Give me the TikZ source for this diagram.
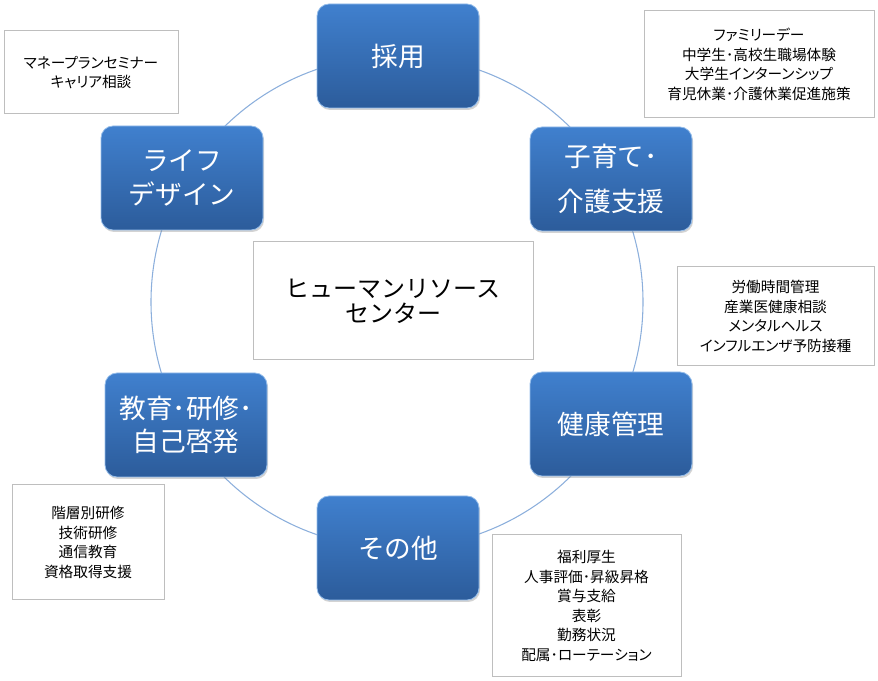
\documentclass[tikz,border=0pt]{standalone}
\usepackage{fontspec}
\setmainfont{Noto Sans CJK JP}
\newfontfamily\memofont{Noto Sans CJK JP}[RawFeature=+palt]
\usetikzlibrary{shadows}

\definecolor{boxtop}{RGB}{64,128,206}
\definecolor{boxbot}{RGB}{44,92,155}
\definecolor{boxrim}{RGB}{150,190,235}
\definecolor{ringblue}{RGB}{140,175,220}
\definecolor{framegray}{RGB}{190,190,190}

\tikzset{
  topic/.style={rounded corners=9pt, top color=boxtop, bottom color=boxbot,
    draw=boxrim, line width=0.6pt, text=white, align=center,
    minimum width=121.5pt, minimum height=78pt, inner sep=0pt,
    font=\fontsize{20pt}{25pt}\selectfont,
    drop shadow={shadow xshift=0.8pt, shadow yshift=-1.5pt, opacity=0.35}},
  memo/.style={draw=framegray, line width=0.75pt, fill=white, align=center,
    inner sep=0pt, font=\memofont\fontsize{11pt}{14.6pt}\selectfont},
}

\begin{document}
\begin{tikzpicture}[x=0.75pt,y=0.75pt]
    \useasboundingbox (0,0) rectangle (878,681);
    \coordinate (hub) at (397,379);
    \draw[ringblue,line width=0.8pt] (hub) circle[radius=184.5pt];
    % centre
    \node[memo,minimum width=210pt,minimum height=88.5pt,font=\fontsize{18pt}{18.75pt}\selectfont] (hrc) at (393,380) {ヒューマンリソース\\センター};
    % topics round the ring
    \node[topic] (saiyo) at (398,625) {採用};
    \node[topic] (kosodate) at (611,502) {子育て･\\[9pt]介護支援};
    \node[topic] (kenko) at (611,257) {健康管理};
    \node[topic] (sonota) at (398,133) {その他};
    \node[topic] (kyoiku) at (186,256) {教育･研修･\\自己啓発};
    \node[topic] (life) at (182,503) {ライフ\\デザイン};
    % notes
    \node[memo,minimum width=130.5pt,minimum height=62.25pt] (money) at (91,608.5) {マネープランセミナー\\キャリア相談};
    \node[memo,minimum width=172.5pt,minimum height=80.25pt] (family) at (759,616.5) {ファミリーデー\\中学生･高校生職場体験\\大学生インターンシップ\\育児休業･介護休業促進施策};
    \node[memo,minimum width=147.75pt,minimum height=74.25pt] (rodo) at (775.5,364.5) {労働時間管理\\産業医健康相談\\メンタルヘルス\\インフルエンザ予防接種};
    \node[memo,minimum width=114pt,minimum height=86.25pt] (kaiso) at (88,138.5) {階層別研修\\技術研修\\通信教育\\資格取得支援};
    \node[memo,minimum width=141.75pt,minimum height=106.5pt] (fukuri) at (586.5,75) {福利厚生\\人事評価･昇級昇格\\賞与支給\\表彰\\勤務状況\\配属･ローテーション};
\end{tikzpicture}
\end{document}
